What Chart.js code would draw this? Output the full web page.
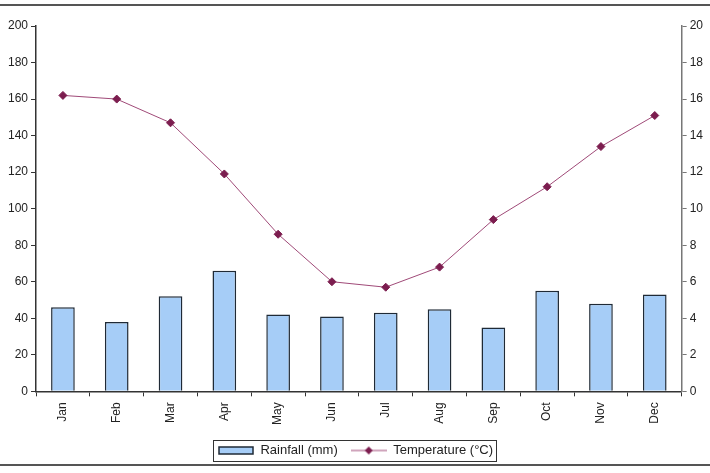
<!DOCTYPE html>
<html>
<head>
<meta charset="utf-8">
<script src="https://cdn.jsdelivr.net/npm/chart.js@4/dist/chart.umd.min.js"></script>
<style>
    html, body { margin: 0; padding: 0; background: #fff; }
    #wrap { width: 710px; height: 473px; }
</style>
</head>
<body>
<div id="wrap"><canvas id="chart" width="710" height="473"></canvas></div>
<script>
const months = ["Jan", "Feb", "Mar", "Apr", "May", "Jun", "Jul", "Aug", "Sep", "Oct", "Nov", "Dec"];
const rainfall = [46, 38, 52, 66, 42, 41, 43, 45, 35, 55, 48, 53];
const temperature = [16.2, 16.0, 14.7, 11.9, 8.6, 6.0, 5.7, 6.8, 9.4, 11.2, 13.4, 15.1];

const barFill = "#a6cdf7";
const barEdge = "#1f2a36";
const lineColor = "#a04a78";
const markColor = "#7c1d4f";
const axisColor = "#333333";
const textColor = "#222222";

// little pictures for the legend keys
function rainKey() {
    const c = document.createElement("canvas");
    c.width = 36; c.height = 9;
    const ctx = c.getContext("2d");
    ctx.fillStyle = barFill;
    ctx.fillRect(1, 1, 34, 7);
    ctx.strokeStyle = barEdge;
    ctx.lineWidth = 1.5;
    ctx.strokeRect(1, 1, 34, 7);
    return c;
}

function tempKey() {
    const c = document.createElement("canvas");
    c.width = 36; c.height = 10;
    const ctx = c.getContext("2d");
    ctx.strokeStyle = lineColor;
    ctx.lineWidth = 1;
    ctx.beginPath();
    ctx.moveTo(0, 5);
    ctx.lineTo(36, 5);
    ctx.stroke();
    ctx.fillStyle = markColor;
    ctx.beginPath();
    ctx.moveTo(18, 1);
    ctx.lineTo(22, 5);
    ctx.lineTo(18, 9);
    ctx.lineTo(14, 5);
    ctx.closePath();
    ctx.fill();
    return c;
}

const framePlugin = {
    id: "frame",
    beforeDraw(chart) {
        const ctx = chart.ctx;
        ctx.save();
        ctx.fillStyle = "#fff";
        ctx.fillRect(0, 0, chart.width, chart.height);
        ctx.strokeStyle = "#555";
        ctx.lineWidth = 2;
        ctx.beginPath();
        ctx.moveTo(0, 5);
        ctx.lineTo(chart.width, 5);
        ctx.moveTo(0, 465);
        ctx.lineTo(chart.width, 465);
        ctx.stroke();
        ctx.restore();
    },
    afterDraw(chart) {
        const lg = chart.legend;
        const ctx = chart.ctx;
        ctx.save();
        ctx.strokeStyle = "#333";
        ctx.lineWidth = 1;
        const w = lg.legendHitBoxes.reduce((s, b) => Math.max(s, b.left + b.width), 0) - lg.legendHitBoxes[0].left;
        const x = Math.round(lg.legendHitBoxes[0].left - 5) + 0.5;
        const y = Math.round(lg.legendHitBoxes[0].top - 4) + 0.5;
        ctx.strokeRect(x, y, Math.round(w + 8), 21);
        ctx.restore();
    }
};

new Chart(document.getElementById("chart"), {
    data: {
        labels: months,
        datasets: [
            {
                type: "bar",
                label: "Rainfall (mm)",
                data: rainfall,
                backgroundColor: barFill,
                borderColor: barEdge,
                borderWidth: 1.5,
                barPercentage: 0.44,
                categoryPercentage: 1,
                yAxisID: "y",
                order: 2
            },
            {
                type: "line",
                label: "Temperature (°C)",
                data: temperature,
                borderColor: lineColor,
                borderWidth: 1,
                pointStyle: "rectRot",
                pointRadius: 4,
                pointBackgroundColor: markColor,
                pointBorderColor: markColor,
                tension: 0,
                yAxisID: "y1",
                order: 1
            }
        ]
    },
    options: {
        responsive: false,
        animation: false,
        layout: { padding: { top: 26, left: 5, right: 4, bottom: 6 } },
        plugins: {
            tooltip: { enabled: false },
            legend: {
                position: "bottom",
                labels: {
                    usePointStyle: true,
                    pointStyleWidth: 36,
                    boxHeight: 10,
                    padding: 13,
                    color: textColor,
                    font: { family: "Liberation Sans, Arial", size: 13 },
                    generateLabels(chart) {
                        return chart.data.datasets.map((ds, i) => ({
                            text: ds.label,
                            pointStyle: i === 0 ? rainKey() : tempKey(),
                            fillStyle: "transparent",
                            strokeStyle: "transparent",
                            lineWidth: 0,
                            fontColor: textColor,
                            datasetIndex: i
                        }));
                    }
                }
            }
        },
        scales: {
            x: {
                offset: true,
                grid: {
                    offset: true,
                    drawOnChartArea: false,
                    tickLength: 5,
                    color: axisColor
                },
                border: { color: axisColor, width: 1.5 },
                ticks: {
                    minRotation: 90,
                    maxRotation: 90,
                    padding: 6,
                    color: textColor,
                    font: { family: "Liberation Sans, Arial", size: 12 }
                }
            },
            y: {
                position: "left",
                min: 0,
                max: 200,
                ticks: {
                    stepSize: 20,
                    padding: 3,
                    color: textColor,
                    font: { family: "Liberation Sans, Arial", size: 12 }
                },
                grid: { drawOnChartArea: false, tickLength: 5, color: axisColor },
                border: { color: axisColor, width: 1.5 }
            },
            y1: {
                position: "right",
                min: 0,
                max: 20,
                ticks: {
                    stepSize: 2,
                    padding: 3,
                    color: textColor,
                    font: { family: "Liberation Sans, Arial", size: 12 }
                },
                grid: { drawOnChartArea: false, tickLength: 5, color: "#777" },
                border: { color: "#777", width: 1.5 }
            }
        }
    },
    plugins: [framePlugin]
});
</script>
</body>
</html>
